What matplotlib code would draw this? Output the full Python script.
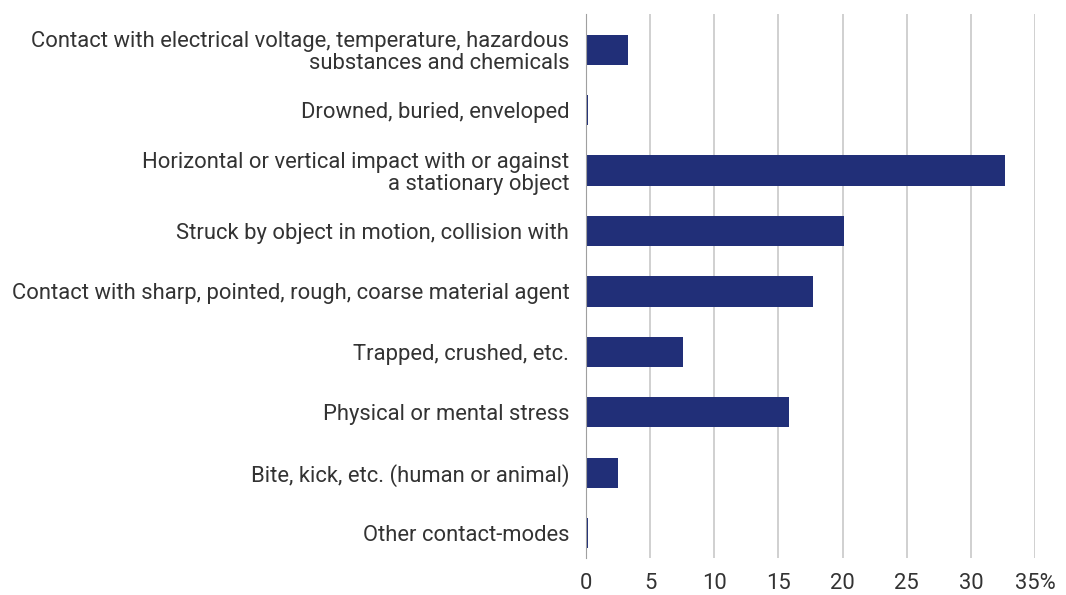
import numpy as np
import matplotlib.pyplot as plt
from matplotlib import font_manager

# categories top to bottom, share of accidents in %
categories = [
    'Contact with electrical voltage, temperature, hazardous\nsubstances and chemicals',
    'Drowned, buried, enveloped',
    'Horizontal or vertical impact with or against\na stationary object',
    'Struck by object in motion, collision with',
    'Contact with sharp, pointed, rough, coarse material agent',
    'Trapped, crushed, etc.',
    'Physical or mental stress',
    'Bite, kick, etc. (human or animal)',
    'Other contact-modes',
]
values = [3.3, 0.15, 32.7, 20.1, 17.7, 7.6, 15.8, 2.5, 0.15]
xticks = [0, 5, 10, 15, 20, 25, 30, 35]
xticklabels = ['0', '5', '10', '15', '20', '25', '30', '35%']

# narrow font if we have it, otherwise fall back
names = set(f.name for f in font_manager.fontManager.ttflist)
fam = 'Liberation Sans Narrow' if 'Liberation Sans Narrow' in names else 'Roboto'
plt.rcParams['font.family'] = [fam, 'DejaVu Sans']

fig = plt.figure(figsize=(10.66, 5.95), dpi=100)
ax = fig.add_axes([0.5497, 0.0622, 0.9709 - 0.5497, 0.9765 - 0.0622])

y = np.arange(len(categories))
ax.barh(y, values, height=0.5, color='#212f78', zorder=3)

# gridlines start a bit above the first band, stop a bit short at the bottom
ax.set_ylim(len(categories) - 0.5 - 0.09, -0.5 - 0.09)
ax.set_xlim(0, 35)
ax.set_yticks(y)
ax.set_yticklabels(categories, fontsize=15.8, color='#333333', linespacing=1.05)
ax.set_xticks(xticks)
ax.set_xticklabels(xticklabels, fontsize=15.8, color='#333333')

ax.tick_params(axis='both', length=0)
ax.tick_params(axis='y', pad=12)
ax.tick_params(axis='x', pad=11)
ax.xaxis.grid(True, color='#c8c8c8', linewidth=1.2, zorder=0)
for s in ['top', 'right', 'bottom']:
    ax.spines[s].set_visible(False)
ax.spines['left'].set_color('#a0a0a0')
ax.spines['left'].set_zorder(4)

fig.savefig('out.png', dpi=100)
